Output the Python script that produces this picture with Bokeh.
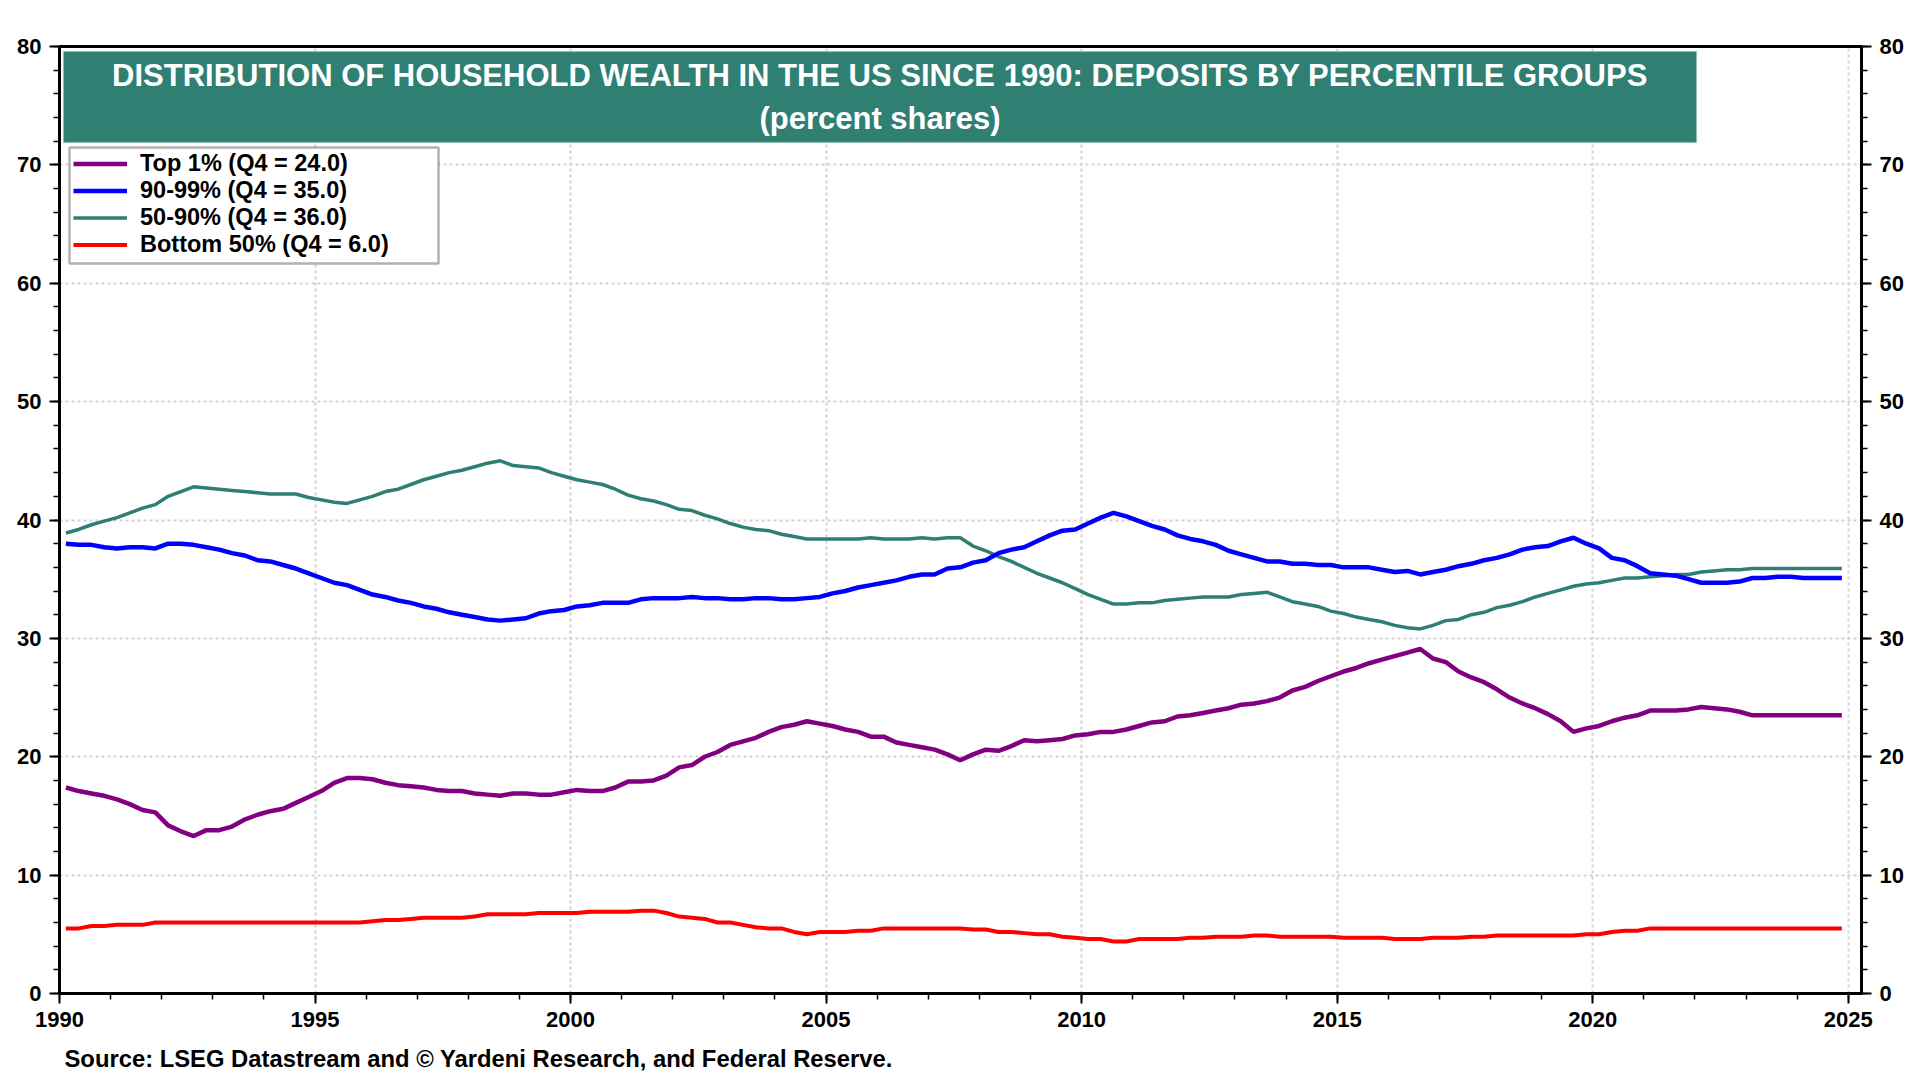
from bokeh.plotting import figure
from bokeh.models import (Range1d, LinearAxis, SingleIntervalTicker, Legend, LegendItem,
                          BoxAnnotation, Label, Title)
from bokeh.embed import file_html
from bokeh.resources import INLINE

# ---------------- data (quarterly, 1990Q1 .. 2024Q4) ----------------
years = list(range(1990, 2025))
quarters = [1, 2, 3, 4]

top1 = [
    17.4, 17.1, 16.9, 16.7,  # 1990
    16.4, 16.0, 15.5, 15.3,  # 1991
    14.2, 13.7, 13.3, 13.8,  # 1992
    13.8, 14.1, 14.7, 15.1,  # 1993
    15.4, 15.6, 16.1, 16.6,  # 1994
    17.1, 17.8, 18.2, 18.2,  # 1995
    18.1, 17.8, 17.6, 17.5,  # 1996
    17.4, 17.2, 17.1, 17.1,  # 1997
    16.9, 16.8, 16.7, 16.9,  # 1998
    16.9, 16.8, 16.8, 17.0,  # 1999
    17.2, 17.1, 17.1, 17.4,  # 2000
    17.9, 17.9, 18.0, 18.4,  # 2001
    19.1, 19.3, 20.0, 20.4,  # 2002
    21.0, 21.3, 21.6, 22.1,  # 2003
    22.5, 22.7, 23.0, 22.8,  # 2004
    22.6, 22.3, 22.1, 21.7,  # 2005
    21.7, 21.2, 21.0, 20.8,  # 2006
    20.6, 20.2, 19.7, 20.2,  # 2007
    20.6, 20.5, 20.9, 21.4,  # 2008
    21.3, 21.4, 21.5, 21.8,  # 2009
    21.9, 22.1, 22.1, 22.3,  # 2010
    22.6, 22.9, 23.0, 23.4,  # 2011
    23.5, 23.7, 23.9, 24.1,  # 2012
    24.4, 24.5, 24.7, 25.0,  # 2013
    25.6, 25.9, 26.4, 26.8,  # 2014
    27.2, 27.5, 27.9, 28.2,  # 2015
    28.5, 28.8, 29.1, 28.3,  # 2016
    28.0, 27.2, 26.7, 26.3,  # 2017
    25.7, 25.0, 24.5, 24.1,  # 2018
    23.6, 23.0, 22.1, 22.4,  # 2019
    22.6, 23.0, 23.3, 23.5,  # 2020
    23.9, 23.9, 23.9, 24.0,  # 2021
    24.2, 24.1, 24.0, 23.8,  # 2022
    23.5, 23.5, 23.5, 23.5,  # 2023
    23.5, 23.5, 23.5, 23.5,  # 2024
]

p90_99 = [
    38.0, 37.9, 37.9, 37.7,  # 1990
    37.6, 37.7, 37.7, 37.6,  # 1991
    38.0, 38.0, 37.9, 37.7,  # 1992
    37.5, 37.2, 37.0, 36.6,  # 1993
    36.5, 36.2, 35.9, 35.5,  # 1994
    35.1, 34.7, 34.5, 34.1,  # 1995
    33.7, 33.5, 33.2, 33.0,  # 1996
    32.7, 32.5, 32.2, 32.0,  # 1997
    31.8, 31.6, 31.5, 31.6,  # 1998
    31.7, 32.1, 32.3, 32.4,  # 1999
    32.7, 32.8, 33.0, 33.0,  # 2000
    33.0, 33.3, 33.4, 33.4,  # 2001
    33.4, 33.5, 33.4, 33.4,  # 2002
    33.3, 33.3, 33.4, 33.4,  # 2003
    33.3, 33.3, 33.4, 33.5,  # 2004
    33.8, 34.0, 34.3, 34.5,  # 2005
    34.7, 34.9, 35.2, 35.4,  # 2006
    35.4, 35.9, 36.0, 36.4,  # 2007
    36.6, 37.2, 37.5, 37.7,  # 2008
    38.2, 38.7, 39.1, 39.2,  # 2009
    39.7, 40.2, 40.6, 40.3,  # 2010
    39.9, 39.5, 39.2, 38.7,  # 2011
    38.4, 38.2, 37.9, 37.4,  # 2012
    37.1, 36.8, 36.5, 36.5,  # 2013
    36.3, 36.3, 36.2, 36.2,  # 2014
    36.0, 36.0, 36.0, 35.8,  # 2015
    35.6, 35.7, 35.4, 35.6,  # 2016
    35.8, 36.1, 36.3, 36.6,  # 2017
    36.8, 37.1, 37.5, 37.7,  # 2018
    37.8, 38.2, 38.5, 38.0,  # 2019
    37.6, 36.8, 36.6, 36.1,  # 2020
    35.5, 35.4, 35.3, 35.0,  # 2021
    34.7, 34.7, 34.7, 34.8,  # 2022
    35.1, 35.1, 35.2, 35.2,  # 2023
    35.1, 35.1, 35.1, 35.1,  # 2024
]

p50_90 = [
    38.9, 39.2, 39.6, 39.9,  # 1990
    40.2, 40.6, 41.0, 41.3,  # 1991
    42.0, 42.4, 42.8, 42.7,  # 1992
    42.6, 42.5, 42.4, 42.3,  # 1993
    42.2, 42.2, 42.2, 41.9,  # 1994
    41.7, 41.5, 41.4, 41.7,  # 1995
    42.0, 42.4, 42.6, 43.0,  # 1996
    43.4, 43.7, 44.0, 44.2,  # 1997
    44.5, 44.8, 45.0, 44.6,  # 1998
    44.5, 44.4, 44.0, 43.7,  # 1999
    43.4, 43.2, 43.0, 42.6,  # 2000
    42.1, 41.8, 41.6, 41.3,  # 2001
    40.9, 40.8, 40.4, 40.1,  # 2002
    39.7, 39.4, 39.2, 39.1,  # 2003
    38.8, 38.6, 38.4, 38.4,  # 2004
    38.4, 38.4, 38.4, 38.5,  # 2005
    38.4, 38.4, 38.4, 38.5,  # 2006
    38.4, 38.5, 38.5, 37.8,  # 2007
    37.4, 36.9, 36.5, 36.0,  # 2008
    35.5, 35.1, 34.7, 34.2,  # 2009
    33.7, 33.3, 32.9, 32.9,  # 2010
    33.0, 33.0, 33.2, 33.3,  # 2011
    33.4, 33.5, 33.5, 33.5,  # 2012
    33.7, 33.8, 33.9, 33.5,  # 2013
    33.1, 32.9, 32.7, 32.3,  # 2014
    32.1, 31.8, 31.6, 31.4,  # 2015
    31.1, 30.9, 30.8, 31.1,  # 2016
    31.5, 31.6, 32.0, 32.2,  # 2017
    32.6, 32.8, 33.1, 33.5,  # 2018
    33.8, 34.1, 34.4, 34.6,  # 2019
    34.7, 34.9, 35.1, 35.1,  # 2020
    35.2, 35.3, 35.4, 35.4,  # 2021
    35.6, 35.7, 35.8, 35.8,  # 2022
    35.9, 35.9, 35.9, 35.9,  # 2023
    35.9, 35.9, 35.9, 35.9,  # 2024
]

bottom50 = [
    5.5, 5.5, 5.7, 5.7,  # 1990
    5.8, 5.8, 5.8, 6.0,  # 1991
    6.0, 6.0, 6.0, 6.0,  # 1992
    6.0, 6.0, 6.0, 6.0,  # 1993
    6.0, 6.0, 6.0, 6.0,  # 1994
    6.0, 6.0, 6.0, 6.0,  # 1995
    6.1, 6.2, 6.2, 6.3,  # 1996
    6.4, 6.4, 6.4, 6.4,  # 1997
    6.5, 6.7, 6.7, 6.7,  # 1998
    6.7, 6.8, 6.8, 6.8,  # 1999
    6.8, 6.9, 6.9, 6.9,  # 2000
    6.9, 7.0, 7.0, 6.8,  # 2001
    6.5, 6.4, 6.3, 6.0,  # 2002
    6.0, 5.8, 5.6, 5.5,  # 2003
    5.5, 5.2, 5.0, 5.2,  # 2004
    5.2, 5.2, 5.3, 5.3,  # 2005
    5.5, 5.5, 5.5, 5.5,  # 2006
    5.5, 5.5, 5.5, 5.4,  # 2007
    5.4, 5.2, 5.2, 5.1,  # 2008
    5.0, 5.0, 4.8, 4.7,  # 2009
    4.6, 4.6, 4.4, 4.4,  # 2010
    4.6, 4.6, 4.6, 4.6,  # 2011
    4.7, 4.7, 4.8, 4.8,  # 2012
    4.8, 4.9, 4.9, 4.8,  # 2013
    4.8, 4.8, 4.8, 4.8,  # 2014
    4.7, 4.7, 4.7, 4.7,  # 2015
    4.6, 4.6, 4.6, 4.7,  # 2016
    4.7, 4.7, 4.8, 4.8,  # 2017
    4.9, 4.9, 4.9, 4.9,  # 2018
    4.9, 4.9, 4.9, 5.0,  # 2019
    5.0, 5.2, 5.3, 5.3,  # 2020
    5.5, 5.5, 5.5, 5.5,  # 2021
    5.5, 5.5, 5.5, 5.5,  # 2022
    5.5, 5.5, 5.5, 5.5,  # 2023
    5.5, 5.5, 5.5, 5.5,  # 2024
]

series_labels = [
    "Top 1% (Q4 = 24.0)",
    "90-99% (Q4 = 35.0)",
    "50-90% (Q4 = 36.0)",
    "Bottom 50% (Q4 = 6.0)",
]
title_line1 = "DISTRIBUTION OF HOUSEHOLD WEALTH IN THE US SINCE 1990: DEPOSITS BY PERCENTILE GROUPS"
title_line2 = "(percent shares)"
source_text = "Source: LSEG Datastream and \u00a9 Yardeni Research, and Federal Reserve."

# quarter mid-points on a decimal-year axis
x = [y + (q - 0.5) / 4 for y in years for q in quarters]

FONT = "Liberation Sans"

p = figure(frame_width=1802, frame_height=947,
           x_range=Range1d(1990, 2025.26), y_range=Range1d(0, 80),
           output_backend="svg", toolbar_location=None,
           min_border_left=59, min_border_right=50,
           min_border_top=46, min_border_bottom=20,
           background_fill_color="white", border_fill_color="white")

p.outline_line_color = "black"
p.outline_line_width = 3

xt = SingleIntervalTicker(interval=5, num_minor_ticks=5)
yt = SingleIntervalTicker(interval=10, num_minor_ticks=5)

right_axis = LinearAxis(ticker=yt)
p.add_layout(right_axis, "right")

for ax in [p.xaxis[0], p.yaxis[0], right_axis]:
    ax.axis_line_color = "black"
    ax.axis_line_width = 3
    ax.major_tick_line_color = "black"
    ax.major_tick_line_width = 2
    ax.minor_tick_line_color = "black"
    ax.minor_tick_line_width = 1.5
    ax.major_tick_in = 0
    ax.major_tick_out = 10
    ax.minor_tick_in = 0
    ax.minor_tick_out = 6
    ax.major_label_text_font = FONT
    ax.major_label_text_font_style = "bold"
    ax.major_label_text_font_size = "22px"
    ax.major_label_text_color = "black"
    ax.major_label_standoff = 8

p.xaxis[0].ticker = xt
p.yaxis[0].ticker = yt

p.xgrid.ticker = xt
p.ygrid.ticker = yt
p.grid.grid_line_color = "#D2D2D2"
p.grid.grid_line_width = 2
p.grid.grid_line_dash = "3 3"

r_teal = p.line(x, p50_90, line_color="#2E7F73", line_width=3.5)
r_blue = p.line(x, p90_99, line_color="#0000FF", line_width=4.5)
r_purple = p.line(x, top1, line_color="#800080", line_width=4.5)
r_red = p.line(x, bottom50, line_color="#FF0000", line_width=4)

# title banner
box = BoxAnnotation(left=4, right=1637, top=942, bottom=851,
                    left_units="screen", right_units="screen",
                    top_units="screen", bottom_units="screen",
                    fill_color="#2F7F73", fill_alpha=1.0,
                    line_color="#8DB9B1", line_width=1.5)
p.add_layout(box)

p.add_layout(Label(x=820.5, y=918, x_units="screen", y_units="screen",
                   text=title_line1, text_align="center", text_baseline="middle",
                   text_color="white", text_font=FONT, text_font_style="bold",
                   text_font_size="31px"))
p.add_layout(Label(x=820.5, y=875.5, x_units="screen", y_units="screen",
                   text=title_line2, text_align="center", text_baseline="middle",
                   text_color="white", text_font=FONT, text_font_style="bold",
                   text_font_size="31px"))

# legend frame
legend_box = BoxAnnotation(left=10, right=379, top=846, bottom=730,
                           left_units="screen", right_units="screen",
                           top_units="screen", bottom_units="screen",
                           fill_color="white", fill_alpha=1.0,
                           line_color="black", line_width=2.5)
p.add_layout(legend_box)

legend = Legend(items=[
    LegendItem(label=series_labels[0], renderers=[r_purple]),
    LegendItem(label=series_labels[1], renderers=[r_blue]),
    LegendItem(label=series_labels[2], renderers=[r_teal]),
    LegendItem(label=series_labels[3], renderers=[r_red]),
], location=(14, 735), margin=0, padding=4, spacing=0,
    glyph_width=54, glyph_height=25, label_height=25, label_standoff=13,
    label_text_font=FONT, label_text_font_style="bold", label_text_font_size="23.5px",
    label_text_color="black",
    border_line_color=None, background_fill_alpha=0.0)
p.add_layout(legend)

source = Title(text=source_text, align="left", offset=5, standoff=26,
               text_font=FONT, text_font_style="bold", text_font_size="23.8px",
               text_color="black")
p.add_layout(source, "below")

open("out.html", "w").write(file_html(p, INLINE))
